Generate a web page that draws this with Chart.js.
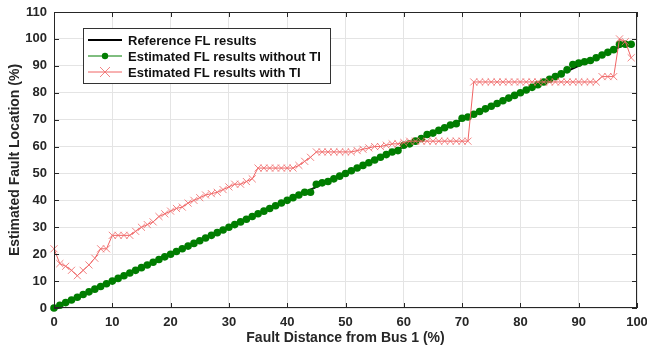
<!DOCTYPE html>
<html>
<head>
<meta charset="utf-8">
<script src="https://cdn.jsdelivr.net/npm/chart.js@4.4.1/dist/chart.umd.min.js"></script>
<style>
  html, body { margin: 0; padding: 0; background: #fff; }
  #wrap { position: relative; width: 647px; height: 347px; }
</style>
</head>
<body>
<div id="wrap"><canvas id="fl-chart"></canvas></div>
<script>
// Fault distance from bus 1 (%)
const distance = [
  0, 1, 2, 3, 4, 5, 6, 7, 8, 9, 10, 11, 12, 13, 14, 15, 16, 17, 18, 19,
  20, 21, 22, 23, 24, 25, 26, 27, 28, 29, 30, 31, 32, 33, 34, 35, 36, 37, 38, 39,
  40, 41, 42, 43, 44, 45, 46, 47, 48, 49, 50, 51, 52, 53, 54, 55, 56, 57, 58, 59,
  60, 61, 62, 63, 64, 65, 66, 67, 68, 69, 70, 71, 72, 73, 74, 75, 76, 77, 78, 79,
  80, 81, 82, 83, 84, 85, 86, 87, 88, 89, 90, 91, 92, 93, 94, 95, 96, 97, 98, 99
];

// Reference FL results
const referenceFL = [0, 99];
const referenceX = [0, 99];

// Estimated FL results without TI
const estimatedNoTI = [
  0, 1, 2, 3, 4, 5, 6, 7, 8, 9, 10, 11, 12, 13, 14, 15, 16, 17, 18, 19,
  20, 21, 22, 23, 24, 25, 26, 27, 28, 29, 30, 31, 32, 33, 34, 35, 36, 37, 38, 39,
  40, 41, 42, 43, 43, 46, 46.5, 47, 48, 49, 50, 51, 52, 53, 54, 55, 56, 57, 58, 58.5,
  60.5, 61, 62, 63, 64.5, 65, 66, 67, 68, 68.5, 70.5, 71, 72, 73, 74, 75, 76, 77, 78, 79,
  80, 81, 82, 83, 84, 85, 86, 87, 88.5, 90.5, 91, 91.5, 92, 93, 94, 95, 96, 98, 98, 98
];

// Estimated FL results with TI
const estimatedTI = [
  22, 16.5, 15.5, 14, 12, 14, 16, 18.5, 22, 22, 27, 27, 27, 27, 28.5, 30, 31, 32, 34, 35,
  36, 37, 37.5, 39, 40, 41, 42, 42.5, 43, 44, 45, 46, 46, 47, 48, 52, 52, 52, 52, 52,
  52, 52, 53, 54.5, 56, 58, 58, 58, 58, 58, 58, 58, 58.5, 59, 59.5, 60, 60, 60.5, 61, 61,
  61.5, 62, 62, 62, 62, 62, 62, 62, 62, 62, 62, 62, 84, 84, 84, 84, 84, 84, 84, 84,
  84, 84, 84, 84, 84, 84, 84, 84, 84, 84, 84, 84, 84, 84, 86, 86, 86, 100, 99, 93
];

const xTicks = [0, 10, 20, 30, 40, 50, 60, 70, 80, 90, 100];
const yTicks = [0, 10, 20, 30, 40, 50, 60, 70, 80, 90, 100, 110];

const toPoints = (xs, ys) => ys.map((y, i) => ({ x: xs[i], y: y }));

const FONT = '"Liberation Sans", Arial, Helvetica, sans-serif';
const GREEN = 'rgb(0,125,0)';
const RED = 'rgb(240,100,100)';

/**
 * Box, inward ticks and legend drawn MATLAB style
 */
const matlabFrame = {
  id: 'matlabFrame',
  afterDatasetsDraw: function(chart) {
    const ctx = chart.ctx;
    const a = chart.chartArea;
    const xs = chart.scales.x, ys = chart.scales.y;
    ctx.save();
    ctx.strokeStyle = '#262626';
    ctx.lineWidth = 1;
    ctx.strokeRect(a.left + 0.5, a.top + 0.5, a.right - a.left - 1, a.bottom - a.top - 1);
    ctx.beginPath();
    xTicks.forEach(v => {
      const px = Math.round(xs.getPixelForValue(v)) + 0.5;
      ctx.moveTo(px, a.bottom); ctx.lineTo(px, a.bottom - 5);
      ctx.moveTo(px, a.top); ctx.lineTo(px, a.top + 5);
    });
    yTicks.forEach(v => {
      const py = Math.round(ys.getPixelForValue(v)) + 0.5;
      ctx.moveTo(a.left, py); ctx.lineTo(a.left + 5, py);
      ctx.moveTo(a.right, py); ctx.lineTo(a.right - 5, py);
    });
    ctx.stroke();

    // legend box
    const bx = 83.5, by = 28.5, bw = 247, bh = 55;
    ctx.fillStyle = '#fff';
    ctx.fillRect(bx, by, bw, bh);
    ctx.strokeStyle = '#333';
    ctx.strokeRect(bx, by, bw, bh);
    ctx.font = 'bold 13px ' + FONT;
    ctx.textBaseline = 'middle';
    chart.data.datasets.forEach((ds, i) => {
      const rowY = 40 + i * 16;
      ctx.strokeStyle = ds.borderColor;
      ctx.lineWidth = ds.borderWidth;
      ctx.beginPath();
      ctx.moveTo(88, rowY); ctx.lineTo(122, rowY);
      ctx.stroke();
      if (ds.pointStyle === 'circle') {
        ctx.fillStyle = ds.pointBackgroundColor;
        ctx.beginPath();
        ctx.arc(105, rowY, 3.2, 0, Math.PI * 2);
        ctx.fill();
      } else if (ds.pointStyle === 'crossRot') {
        ctx.strokeStyle = ds.pointBorderColor;
        ctx.lineWidth = 1;
        ctx.beginPath();
        ctx.moveTo(100, rowY - 5); ctx.lineTo(110, rowY + 5);
        ctx.moveTo(110, rowY - 5); ctx.lineTo(100, rowY + 5);
        ctx.stroke();
      }
      ctx.fillStyle = '#111';
      ctx.fillText(ds.label, 128, rowY + 1);
    });
    ctx.restore();
  }
};

const ctx = document.getElementById('fl-chart');
new Chart(ctx, {
  type: 'line',
  data: {
    datasets: [
      {
        label: 'Reference FL results',
        data: toPoints(referenceX, referenceFL),
        borderColor: '#000',
        borderWidth: 2,
        pointRadius: 0,
        pointStyle: false,
        order: 3
      },
      {
        label: 'Estimated FL results without TI',
        data: toPoints(distance, estimatedNoTI),
        borderColor: GREEN,
        borderWidth: 1,
        pointStyle: 'circle',
        pointRadius: 3.8,
        pointBackgroundColor: GREEN,
        pointBorderColor: GREEN,
        pointBorderWidth: 0,
        clip: 8,
        order: 2
      },
      {
        label: 'Estimated FL results with TI',
        data: toPoints(distance, estimatedTI),
        borderColor: RED,
        borderWidth: 1,
        pointStyle: 'crossRot',
        pointRadius: 5,
        pointBorderColor: 'rgba(240,110,110,0.85)',
        pointBorderWidth: 1,
        clip: 8,
        order: 1
      }
    ]
  },
  options: {
    responsive: true,
    maintainAspectRatio: false,
    animation: false,
    events: [],
    layout: { padding: { top: 12, right: 10, left: 0, bottom: 0 } },
    plugins: {
      legend: { display: false },
      tooltip: { enabled: false }
    },
    scales: {
      x: {
        type: 'linear',
        min: 0,
        max: 100,
        afterFit: s => {
          s.height = 39;
          s.paddingLeft = 0;
          s.paddingRight = 0;
        },
        afterBuildTicks: s => { s.ticks = xTicks.map(v => ({ value: v })); },
        grid: { color: '#e4e4e4', drawTicks: false },
        border: { display: false },
        ticks: {
          padding: 7,
          color: '#262626',
          font: { family: FONT, size: 13, weight: 'bold' }
        },
        title: {
          display: true,
          text: 'Fault Distance from Bus 1 (%)',
          color: '#262626',
          padding: { top: 0, bottom: 0 },
          font: { family: FONT, size: 14, weight: 'bold' }
        }
      },
      y: {
        min: 0,
        max: 110,
        afterFit: s => {
          s.width = 54;
          s.paddingTop = 0;
          s.paddingBottom = 0;
        },
        afterBuildTicks: s => { s.ticks = yTicks.map(v => ({ value: v })); },
        grid: { color: '#e4e4e4', drawTicks: false },
        border: { display: false },
        ticks: {
          padding: 7,
          color: '#262626',
          font: { family: FONT, size: 13, weight: 'bold' }
        },
        title: {
          display: true,
          text: 'Estimated Fault Location (%)',
          color: '#262626',
          padding: { top: 7, bottom: 0 },
          font: { family: FONT, size: 14, weight: 'bold' }
        }
      }
    }
  },
  plugins: [matlabFrame]
});
</script>
</body>
</html>
